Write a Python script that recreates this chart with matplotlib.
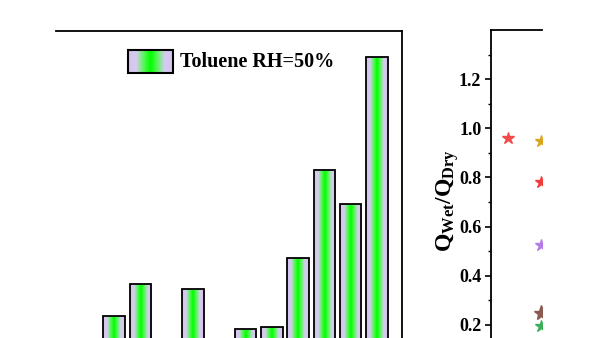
import numpy as np
import matplotlib
matplotlib.use("Agg")
import matplotlib.pyplot as plt
from matplotlib.colors import LinearSegmentedColormap
from matplotlib.patches import Rectangle

plt.rcParams['font.family'] = ['Liberation Serif', 'DejaVu Serif']
plt.rcParams['font.weight'] = 'bold'
plt.rcParams['mathtext.fontset'] = 'custom'
plt.rcParams['mathtext.rm'] = 'Liberation Serif:bold'
plt.rcParams['mathtext.bf'] = 'Liberation Serif:bold'
plt.rcParams['mathtext.it'] = 'Liberation Serif:bold'

# left panel: bar heights (arbitrary units, lower part cropped)
samples = ['S1', 'S2', 'S3', 'S4', 'S5', 'S6', 'S7', 'S8', 'S9', 'S10', 'S11']
toluene_rh50 = [0.68, 0.94, 0.30, 0.90, 0.30, 0.57, 0.59, 1.15, 1.87, 1.59, 2.79]

# right panel: Q_wet / Q_dry stars
ratio_x = [1, 2, 2, 2, 2, 2]
ratio_y = [0.961, 0.947, 0.78, 0.526, 0.25, 0.196]
ratio_colors = ['#f24a4a', '#d9a521', '#f23c3c', '#b57be6', '#8a5a50', '#3fae5a']
ratio_sizes = [9, 9, 9, 9, 11, 9]

fig = plt.figure(figsize=(6, 3.38), dpi=100)

# gradient lavender -> green -> lavender
grad = LinearSegmentedColormap.from_list('lg', [
    (0.0, '#d8c2f2'), (0.18, '#d4cdec'), (0.36, '#50f850'), (0.5, '#00ff00'),
    (0.64, '#50f850'), (0.82, '#d4cdec'), (1.0, '#d8c2f2')])
gimg = np.linspace(0, 1, 64).reshape(1, -1)

ax = fig.add_axes([56/600, 0, 346/600, 307/338])
x = np.arange(len(samples))
width = 0.82
bars = ax.bar(x, toluene_rh50, width=width, facecolor='none',
              edgecolor='black', linewidth=1.3, zorder=3)
for b in bars:
    im = ax.imshow(gimg, cmap=grad, aspect='auto', zorder=2,
                   extent=[b.get_x(), b.get_x() + b.get_width(), 0, b.get_height()])
    im.set_clip_path(b)
ax.set_xlim(-2.205, 10.95)
ax.set_ylim(0.5, 3.0)
ax.spines['left'].set_visible(False)
ax.spines['bottom'].set_visible(False)
ax.spines['top'].set_linewidth(1.3)
ax.spines['right'].set_linewidth(1.3)
ax.set_xticks([])
ax.set_yticks([])

# legend
lx, ly, lw, lh = 0.208, 0.863, 0.130, 0.075
ax.imshow(gimg, cmap=grad, aspect='auto', extent=[lx, lx + lw, ly, ly + lh],
          transform=ax.transAxes, zorder=4)
ax.add_patch(Rectangle((lx, ly), lw, lh, transform=ax.transAxes, facecolor='none',
                       edgecolor='black', linewidth=1.5, zorder=5))
ax.text(0.358, 0.900, 'Toluene RH=50%', transform=ax.transAxes, fontsize=14.5,
        fontweight='bold', va='center', ha='left')

# right panel
ax2 = fig.add_axes([491/600, 0, 51/600, 308/338])
for xi, yi, c, s in zip(ratio_x, ratio_y, ratio_colors, ratio_sizes):
    ax2.plot(xi, yi, marker='*', color=c, markersize=s, linestyle='none')
ax2.set_xlim(1 - 17/33, 2 + 0.5/33)
ax2.set_ylim(0.147, 1.40)
ax2.spines['right'].set_visible(False)
ax2.spines['bottom'].set_visible(False)
ax2.spines['top'].set_linewidth(1.3)
ax2.spines['left'].set_linewidth(1.3)
ax2.set_xticks([])
ax2.set_yticks([0.2, 0.4, 0.6, 0.8, 1.0, 1.2])
ax2.set_yticks(np.arange(0.3, 1.4, 0.2), minor=True)
ax2.tick_params(axis='y', which='major', length=4, width=1.2, labelsize=13, pad=3)
ax2.tick_params(axis='y', which='minor', length=2.5, width=1.0)
for t in ax2.get_yticklabels():
    t.set_fontweight('bold')
ax2.set_ylabel(r'$\mathrm{Q_{Wet}/Q_{Dry}}$', fontsize=17)
ax2.yaxis.set_label_coords(-0.59, 0.445)

fig.savefig('out.png', dpi=100)
